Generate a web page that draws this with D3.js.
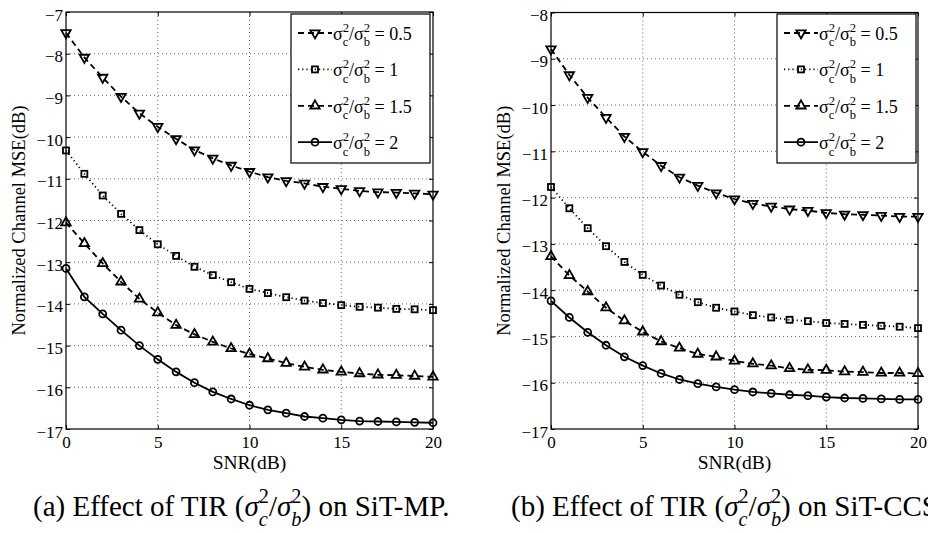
<!DOCTYPE html>
<html>
<head>
<meta charset="utf-8">
<script src="https://cdn.jsdelivr.net/npm/d3@7"></script>
<style>
  body { margin: 0; background: #fff; }
  svg, svg text { font-family: "Liberation Serif", "Tinos", "Times New Roman", Times, serif; }
</style>
</head>
<body>
<svg id="fig" width="928" height="533"></svg>
<script>
// SNR axis (dB)
const snr = [0, 1, 2, 3, 4, 5, 6, 7, 8, 9, 10, 11, 12, 13, 14, 15, 16, 17, 18, 19, 20];
const ratioLabels = ["0.5", "1", "1.5", "2"];

// (a) SiT-MP, normalized channel MSE (dB)
const mp05 = [-7.50, -8.09, -8.57, -9.03, -9.43, -9.75, -10.04, -10.31, -10.51, -10.68, -10.83, -10.96, -11.05, -11.11, -11.19, -11.24, -11.29, -11.32, -11.33, -11.35, -11.37];
const mp10 = [-10.32, -10.88, -11.40, -11.84, -12.23, -12.57, -12.85, -13.11, -13.31, -13.48, -13.64, -13.74, -13.84, -13.92, -13.98, -14.03, -14.07, -14.09, -14.12, -14.13, -14.15];
const mp15 = [-12.05, -12.55, -13.03, -13.47, -13.88, -14.21, -14.51, -14.73, -14.91, -15.07, -15.20, -15.31, -15.42, -15.51, -15.58, -15.63, -15.67, -15.70, -15.71, -15.73, -15.75];
const mp20 = [-13.15, -13.83, -14.24, -14.63, -15.00, -15.33, -15.63, -15.89, -16.11, -16.28, -16.43, -16.54, -16.62, -16.70, -16.74, -16.78, -16.81, -16.82, -16.83, -16.84, -16.85];

// (b) SiT-CCS
const ccs05 = [-8.79, -9.35, -9.84, -10.27, -10.68, -11.01, -11.31, -11.56, -11.74, -11.90, -12.03, -12.13, -12.19, -12.25, -12.28, -12.33, -12.36, -12.37, -12.39, -12.41, -12.41];
const ccs10 = [-11.77, -12.23, -12.66, -13.05, -13.39, -13.67, -13.90, -14.10, -14.26, -14.38, -14.46, -14.54, -14.59, -14.64, -14.67, -14.71, -14.73, -14.75, -14.77, -14.79, -14.82];
const ccs15 = [-13.27, -13.68, -14.03, -14.38, -14.66, -14.90, -15.11, -15.25, -15.38, -15.44, -15.53, -15.59, -15.63, -15.69, -15.72, -15.73, -15.76, -15.77, -15.79, -15.79, -15.80];
const ccs20 = [-14.23, -14.59, -14.91, -15.19, -15.44, -15.63, -15.80, -15.93, -16.02, -16.09, -16.15, -16.20, -16.23, -16.26, -16.28, -16.31, -16.33, -16.34, -16.35, -16.36, -16.36];

const FONT = "Liberation Serif, Tinos, Times New Roman, serif";
const svg = d3.select("#fig").attr("font-family", FONT);

// line style + marker for each ratio
const styles = [
  { dash: "6,4", sym: "down" },
  { dash: "1.2,3", sym: "square" },
  { dash: "6,4", sym: "up" },
  { dash: null, sym: "circle" }
];

function marker(g, kind, cx, cy) {
  let p;
  if (kind === "circle") {
    p = g.append("circle").attr("cx", cx).attr("cy", cy).attr("r", 3.5);
  } else if (kind === "square") {
    p = g.append("rect").attr("x", cx - 3).attr("y", cy - 3).attr("width", 6).attr("height", 6);
  } else {
    p = g.append("path")
      .attr("d", d3.symbol(d3.symbolTriangle, 38)())
      .attr("transform", `translate(${cx},${cy})` + (kind === "down" ? " rotate(180)" : ""));
  }
  p.attr("fill", "none").attr("stroke", "#000").attr("stroke-width", 1.8);
}

// text with stacked super/subscripts, e.g. sigma_c^2
function richText(parent, x, y, parts, size) {
  let cx = x;
  parts.forEach(p => {
    if (p.t !== undefined) {
      const t = parent.append("text").attr("x", cx).attr("y", y)
        .attr("font-family", FONT)
        .attr("font-size", size).attr("font-style", p.it ? "italic" : "normal")
        .style("white-space", "pre").text(p.t);
      cx += t.node().getComputedTextLength();
    } else {
      const s = size * 0.7;
      const a = parent.append("text").attr("x", cx).attr("y", y - size * 0.45)
        .attr("font-family", FONT).attr("font-size", s).text(p.sup);
      const b = parent.append("text").attr("x", cx).attr("y", y + size * 0.36)
        .attr("font-family", FONT).attr("font-size", s)
        .attr("font-style", p.it ? "italic" : "normal").text(p.sub);
      cx += Math.max(a.node().getComputedTextLength(), b.node().getComputedTextLength());
    }
  });
}

function drawPanel(cfg) {
  const g = svg.append("g");
  const x = d3.scaleLinear().domain([0, 20]).range([cfg.left, cfg.right]);
  const y = d3.scaleLinear().domain([-17, cfg.yMax]).range([cfg.bottom, cfg.top]);
  const xTicks = [0, 5, 10, 15, 20];
  const yTicks = y.ticks(12);

  // dotted grid
  g.selectAll(".gx").data(xTicks.slice(1, -1)).enter().append("line")
    .attr("x1", d => x(d)).attr("x2", d => x(d))
    .attr("y1", cfg.top).attr("y2", cfg.bottom)
    .attr("stroke", "#444").attr("stroke-width", 0.8).attr("stroke-dasharray", "1,3");
  g.selectAll(".gy").data(yTicks.slice(1, -1)).enter().append("line")
    .attr("x1", cfg.left).attr("x2", cfg.right)
    .attr("y1", d => y(d)).attr("y2", d => y(d))
    .attr("stroke", "#444").attr("stroke-width", 0.8).attr("stroke-dasharray", "1,3");

  // axes with inward ticks on all four sides
  const left = g.append("g").attr("transform", `translate(${cfg.left},0)`)
    .call(d3.axisLeft(y).tickValues(yTicks).tickSize(-4).tickPadding(3));
  left.selectAll("text").attr("dy", "0.47em");
  const bottom = g.append("g").attr("transform", `translate(0,${cfg.bottom})`)
    .call(d3.axisBottom(x).tickValues(xTicks).tickSize(-4).tickPadding(7));
  g.append("g").attr("transform", `translate(${cfg.right},0)`)
    .call(d3.axisRight(y).tickValues(yTicks).tickSize(-4).tickFormat(""));
  g.append("g").attr("transform", `translate(0,${cfg.top})`)
    .call(d3.axisTop(x).tickValues(xTicks).tickSize(-4).tickFormat(""));
  g.selectAll(".domain").remove();
  g.selectAll(".tick line").attr("stroke", "#000");
  [left, bottom].forEach(a => a.attr("font-family", FONT).attr("font-size", 17)
    .selectAll("text").attr("fill", "#000"));

  g.append("rect")
    .attr("x", cfg.left).attr("y", cfg.top)
    .attr("width", cfg.right - cfg.left).attr("height", cfg.bottom - cfg.top)
    .attr("fill", "none").attr("stroke", "#000").attr("stroke-width", 1.2);

  // series
  const line = d3.line().x((d, i) => x(snr[i])).y(d => y(d));
  cfg.series.forEach((vals, k) => {
    g.append("path").datum(vals)
      .attr("fill", "none").attr("stroke", "#000").attr("stroke-width", 1.8)
      .attr("stroke-dasharray", styles[k].dash)
      .attr("d", line);
    vals.forEach((v, i) => marker(g, styles[k].sym, x(snr[i]), y(v)));
  });

  // axis titles
  g.append("text")
    .attr("x", (cfg.left + cfg.right) / 2).attr("y", 469)
    .attr("text-anchor", "middle").attr("font-size", 19.5)
    .text("SNR(dB)");
  g.append("text")
    .attr("transform", `translate(${cfg.left - 41},${(cfg.top + cfg.bottom) / 2}) rotate(-90)`)
    .attr("text-anchor", "middle").attr("font-size", 18.5)
    .text("Normalized Channel MSE(dB)");

  // legend
  const lx = cfg.legendX, ly = 14;
  const lg = g.append("g");
  lg.append("rect").attr("x", lx).attr("y", ly).attr("width", 139).attr("height", 149)
    .attr("fill", "#fff").attr("stroke", "#000").attr("stroke-width", 1.2);
  ratioLabels.forEach((lab, k) => {
    const ry = ly + 19 + k * 36.4;
    lg.append("line").attr("x1", lx + 7).attr("x2", lx + 41).attr("y1", ry).attr("y2", ry)
      .attr("stroke", "#000").attr("stroke-width", 1.8).attr("stroke-dasharray", styles[k].dash);
    marker(lg, styles[k].sym, lx + 24, ry);
    richText(lg, lx + 42, ry + 7, [
      { t: "σ" }, { sup: "2", sub: "c" }, { t: "/σ" }, { sup: "2", sub: "b" }, { t: " = " + lab }
    ], 18);
  });

  // caption
  richText(g, cfg.captionX, 516, [
    { t: cfg.capHead + " Effect of TIR (" }, { t: "σ", it: true }, { sup: "2", sub: "c", it: true },
    { t: "/" }, { t: "σ", it: true }, { sup: "2", sub: "b", it: true }, { t: ") on " + cfg.capTail }
  ], 29);
}

drawPanel({
  left: 66, right: 433, top: 12, bottom: 429, yMax: -7,
  series: [mp05, mp10, mp15, mp20],
  legendX: 291, captionX: 33, capHead: "(a)", capTail: "SiT-MP."
});
drawPanel({
  left: 551, right: 918, top: 12.5, bottom: 429, yMax: -8,
  series: [ccs05, ccs10, ccs15, ccs20],
  legendX: 777, captionX: 511, capHead: "(b)", capTail: "SiT-CCS."
});
</script>
</body>
</html>
